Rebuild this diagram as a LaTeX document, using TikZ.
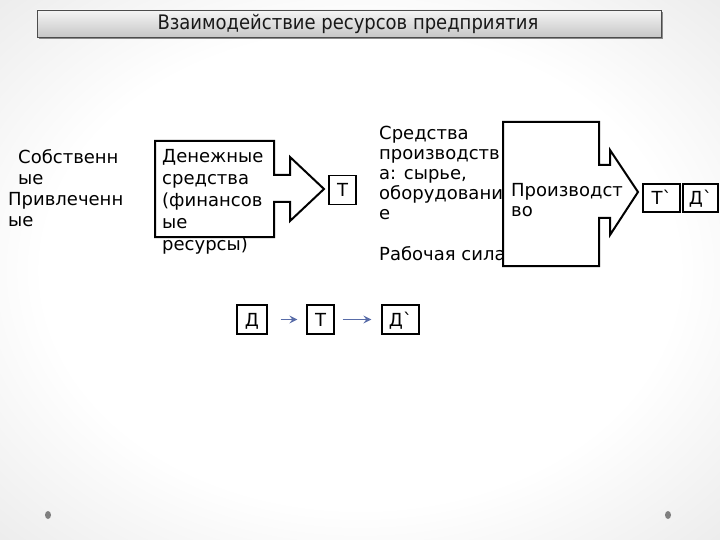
\documentclass[tikz,border=0pt]{standalone}
\usepackage{fontspec}
\setmainfont{DejaVu Sans}
\newfontfamily\titlefont{DejaVu Sans Condensed}
\newfontfamily\plainfont{DejaVu Sans}
\usetikzlibrary{arrows.meta}
\definecolor{flowblue}{RGB}{88,108,168}
\newcommand{\grv}{{\plainfont`}}
\pgfdeclareradialshading{bgshade}{\pgfpoint{0bp}{0bp}}{color(0bp)=(white); color(22bp)=(white); color(50bp)=(black!15); color(72bp)=(black!24)}
\begin{document}
\begin{tikzpicture}[x=1pt,y=-1pt,
  body/.style={font=\fontsize{18}{20}\selectfont, align=left, inner sep=0pt, anchor=north west, text=black},
  callout/.style={draw=black, line width=2pt, fill=white, line join=miter},
  smallbox/.style={draw=black, line width=1.3pt, fill=white, inner sep=0pt, text height=13pt, text depth=0pt, font=\fontsize{18}{20}\selectfont},
  flow/.style={draw=flowblue, line width=1.1pt, -{Stealth[length=8pt,width=8pt,inset=3pt]}},
  dot/.style={fill=black!50, draw=none}]
\useasboundingbox (0,0) rectangle (720,540);
\shade[shading=bgshade] (0,0) rectangle (720,540);
% title
\fill[black!45] (39,12) rectangle (663,39.5);
\shade[top color=white!96!black, bottom color=black!22, draw=black!70, line width=0.8pt] (37,10) rectangle (661,37);
\node[font=\titlefont\fontsize{20}{22}\selectfont, text=black!90] (title) at (348,23.5) {Взаимодействие ресурсов предприятия};
% left texts
\node[body, font=\fontsize{18}{21.5}\selectfont] (own) at (18,149) {Собственн\\ые};
\node[body, font=\fontsize{18}{21.5}\selectfont] (borrow) at (8,192) {Привлеченн\\ые};
% money callout
\path[callout] (155,141) -- (274,141) -- (274,175) -- (290,175) -- (290,157) -- (324,189) -- (290,221) -- (290,202) -- (274,202) -- (274,237) -- (155,237) -- cycle;
\node[body, font=\fontsize{18}{22}\selectfont] (money) at (162,149) {Денежные\\средства\\(финансов\\ые\\ресурсы)};
\node[smallbox, minimum width=27pt, minimum height=29pt] (t1) at (342.5,190) {Т};
% means of production
\node[body] (means) at (379,126) {Средства\\производств\\а: сырье,\\оборудовани\\е};
\node[body] (labor) at (379,246) {Рабочая сила};
% production callout
\path[callout] (503,122) -- (599,122) -- (599,165) -- (610,165) -- (610,150) -- (638,192) -- (610,235) -- (610,218) -- (599,218) -- (599,266) -- (503,266) -- cycle;
\node[body] (prod) at (511,183) {Производст\\во};
\node[smallbox, minimum width=37pt, minimum height=28pt] (t2) at (661.5,198) {Т\grv};
\node[smallbox, minimum width=35pt, minimum height=28pt] (d2) at (700.5,198) {Д\grv};
% bottom formula
\node[smallbox, minimum width=30pt, minimum height=29pt] (d) at (252,319.5) {Д};
\node[smallbox, minimum width=27pt, minimum height=29pt] (t) at (320.5,319.5) {Т};
\node[smallbox, minimum width=37pt, minimum height=29pt] (d3) at (400.5,319.5) {Д\grv};
\draw[flow, shorten <=13pt, shorten >=9pt] (d) -- (t);
\draw[flow, shorten <=8pt, shorten >=10pt] (t) -- (d3);
% dots
\fill[dot] (48,515) ellipse (3pt and 4pt);
\fill[dot] (668,515) ellipse (3pt and 4pt);
\end{tikzpicture}
\end{document}
